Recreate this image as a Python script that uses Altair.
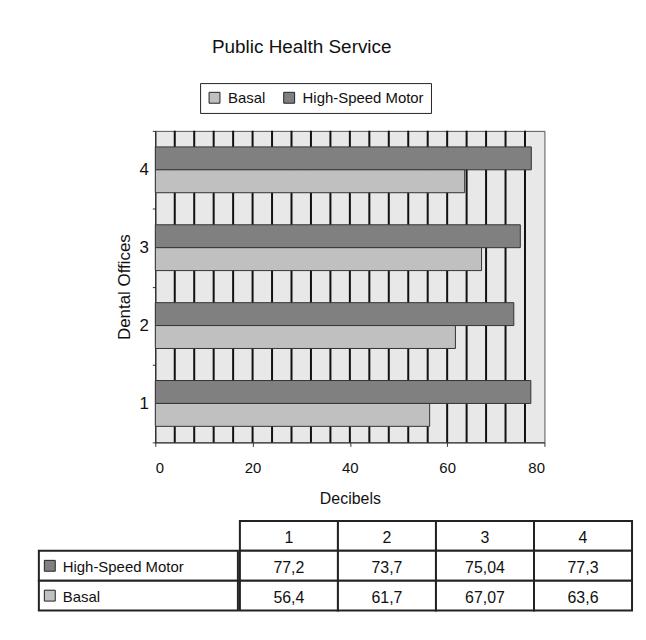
import altair as alt
import pandas as pd

# ---- data ----
offices = ["1", "2", "3", "4"]
series_names = ["High-Speed Motor", "Basal"]
high_speed = [77.2, 73.7, 75.04, 77.3]
basal = [56.4, 61.7, 67.07, 63.6]
x_ticks = [0, 20, 40, 60, 80]
grid_db = [4, 8, 12, 16, 20, 24, 28, 32, 36, 40, 44, 48, 52, 56, 60, 64, 68, 72, 76]

FONT = "Liberation Sans"
TXT = "#111111"

rows = []
for i, o in enumerate(offices):
    rows.append({"office": o, "series": "High-Speed Motor", "value": high_speed[i]})
    rows.append({"office": o, "series": "Basal", "value": basal[i]})
df = pd.DataFrame(rows)

color_scale = alt.Scale(domain=["Basal", "High-Speed Motor"], range=["#c0c0c0", "#808080"])

x_axis = alt.Axis(
    values=x_ticks, title="Decibels", grid=False, labelFont=FONT, labelFontSize=15,
    labelColor=TXT, labelPadding=14, tickSize=4, tickColor="#333", domainColor="#333",
    titleFont=FONT, titleFontSize=16, titleFontWeight="normal", titleColor=TXT,
    titlePadding=15,
)
x_scale = alt.Scale(domain=[0, 80], nice=False)

grid = alt.Chart(pd.DataFrame({"g": grid_db})).mark_rule(color="#111", strokeWidth=2).encode(
    x=alt.X("g:Q", scale=x_scale, axis=x_axis, title="Decibels")
)

bars = alt.Chart(df).mark_bar(stroke="#333", strokeWidth=1).encode(
    x=alt.X("value:Q", scale=x_scale, axis=x_axis, title="Decibels"),
    y=alt.Y(
        "office:N", sort=offices[::-1],
        scale=alt.Scale(paddingInner=0, paddingOuter=0),
        axis=alt.Axis(
            title="Dental Offices", tickBand="extent", labelFont=FONT, labelFontSize=17,
            labelColor=TXT, labelPadding=4, tickSize=3, tickColor="#333", domainColor="#111",
            titleFont=FONT, titleFontSize=17, titleFontWeight="normal", titleColor=TXT,
            titlePadding=5, labelAngle=0,
        ),
    ),
    yOffset=alt.YOffset("series:N", sort=series_names,
                        scale=alt.Scale(paddingOuter=0.7, paddingInner=0)),
    color=alt.Color(
        "series:N", scale=color_scale,
        legend=alt.Legend(
            orient="none", legendX=162, legendY=-48, direction="horizontal", title=None,
            symbolType="square", symbolSize=120, symbolStrokeColor="#222",
            symbolStrokeWidth=1,
            labelFont=FONT, labelFontSize=15, labelColor=TXT,
            strokeColor="#222", fillColor="white", padding=7, columnPadding=16,
            labelOffset=6,
        ),
    ),
)

top = alt.layer(grid, bars).properties(
    width=391, height=313,
    view=alt.ViewBackground(fill="#e8e8e8", stroke="#555", strokeWidth=1),
)

# invisible spacer that sets the left offset of the bar chart
spacer = alt.Chart(pd.DataFrame({"a": [0]})).mark_point(opacity=0).encode(
    x=alt.value(0), y=alt.value(0)
).properties(width=77, height=10, view=alt.ViewBackground(strokeWidth=0, fillOpacity=0))

top_row = alt.hconcat(spacer, top, spacing=0)

# ---- table ----
row_order = ["hdr", "High-Speed Motor", "Basal"]
label_df = pd.DataFrame({"series": series_names})
lab_y = alt.Y("series:N", scale=alt.Scale(domain=row_order, paddingInner=0, paddingOuter=0), axis=None)

label_rect = alt.Chart(label_df).mark_rect(fill="white", stroke="#222", strokeWidth=2).encode(y=lab_y)
label_sw = alt.Chart(label_df).mark_square(size=120, stroke="#222", strokeWidth=1, opacity=1).encode(
    y=lab_y, x=alt.value(11),
    color=alt.Color("series:N", scale=color_scale, legend=None),
)
label_txt = alt.Chart(label_df).mark_text(
    align="left", baseline="middle", font=FONT, fontSize=15, color=TXT, dy=1
).encode(y=lab_y, x=alt.value(24), text="series:N")
label_chart = alt.layer(label_rect, label_sw, label_txt).properties(
    width=200, height=90, view=alt.ViewBackground(strokeWidth=0, fillOpacity=0)
)

cells = []
for o in offices:
    cells.append({"office": o, "row": "hdr", "txt": o})
for i, o in enumerate(offices):
    cells.append({"office": o, "row": "High-Speed Motor", "txt": str(high_speed[i]).replace(".", ",")})
    cells.append({"office": o, "row": "Basal", "txt": str(basal[i]).replace(".", ",")})
cell_df = pd.DataFrame(cells)

tx = alt.X("office:N", sort=offices, scale=alt.Scale(paddingInner=0, paddingOuter=0), axis=None)
ty = alt.Y("row:N", scale=alt.Scale(domain=row_order, paddingInner=0, paddingOuter=0), axis=None)
cell_rect = alt.Chart(cell_df).mark_rect(fill="white", stroke="#222", strokeWidth=2).encode(x=tx, y=ty)
cell_txt = alt.Chart(cell_df).mark_text(font=FONT, fontSize=16, color=TXT, baseline="middle", dy=2).encode(
    x=tx, y=ty, text="txt:N"
)
grid_chart = alt.layer(cell_rect, cell_txt).properties(
    width=394, height=90, view=alt.ViewBackground(strokeWidth=0, fillOpacity=0)
)

bottom = alt.hconcat(label_chart, grid_chart, spacing=0)

chart = alt.vconcat(top_row, bottom, spacing=13).properties(
    title=alt.TitleParams(
        "Public Health Service", anchor="middle", dx=-33, font=FONT, fontSize=19,
        fontWeight="normal", color=TXT, offset=26,
    ),
    padding={"left": 28, "top": 28, "right": 5, "bottom": 5},
).configure_view(strokeWidth=0)

chart.save("out.html", embed_options={"renderer": "svg", "actions": False})
